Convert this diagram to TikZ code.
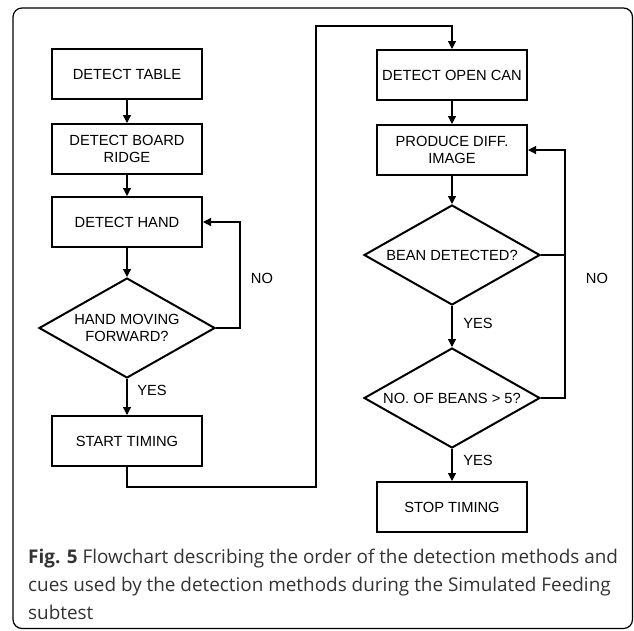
\documentclass[tikz,border=0pt]{standalone}
\usepackage{fontspec}
\setmainfont{Open Sans}
\newfontfamily\diagfont{Liberation Sans}
\usetikzlibrary{arrows.meta,shapes.geometric}
\definecolor{captext}{HTML}{333333}
\tikzset{
  box/.style={draw, line width=2pt, minimum width=150pt, minimum height=50pt, inner sep=0pt, align=center, font=\diagfont\fontsize{14.7}{17}\selectfont},
  dia/.style={draw, diamond, line width=2pt, minimum width=176pt, minimum height=100pt, inner sep=0pt, shape aspect=1.76, align=center, font=\diagfont\fontsize{14.7}{17}\selectfont},
  conn/.style={line width=1.2pt},
  arr/.style={conn, -{Triangle[length=8pt,width=8pt]}},
  lbl/.style={font=\diagfont\fontsize{14.7}{17}\selectfont, inner sep=0pt},
  captionline/.style={anchor=base west, inner sep=0pt, text=captext, font=\fontsize{18.9}{28}\selectfont}
}
\begin{document}
\begin{tikzpicture}[x=1pt,y=-1pt]
\useasboundingbox (0,0) rectangle (634,630);
\draw[line width=1.2pt, rounded corners=9pt] (13,8) rectangle (632.5,628.5);
% left column
\node[box] (t1) at (127,74) {DETECT TABLE};
\node[box] (t2) at (127,149) {DETECT BOARD\\RIDGE};
\node[box] (t3) at (127,222) {DETECT HAND};
\node[dia] (d1) at (127,328) {HAND MOVING\\FORWARD?};
\node[box] (st) at (127,441) {START TIMING};
% right column
\node[box] (oc) at (452,75) {DETECT OPEN CAN};
\node[box] (pd) at (452,150) {PRODUCE DIFF.\\IMAGE};
\node[dia] (d2) at (452,255) {BEAN DETECTED?};
\node[dia] (d3) at (452,398) {NO. OF BEANS > 5?};
\node[box] (sp) at (452,507) {STOP TIMING};
% connectors left
\draw[arr] (t1) -- (t2);
\draw[arr] (t2) -- (t3);
\draw[arr] (t3) -- (d1);
\draw[arr] (d1) -- (st);
\coordinate (nl) at (240,328);
\draw[arr] (d1.east) -- (nl) |- (t3.east);
% link across
\coordinate (c1) at (316,487);
\coordinate (c2) at (316,26);
\draw[arr] (st.south) |- (c1) -- (c2) -| (oc.north);
% connectors right
\draw[arr] (oc) -- (pd);
\draw[arr] (pd) -- (d2);
\draw[arr] (d2) -- (d3);
\draw[arr] (d3) -- (sp);
\coordinate (nr1) at (565,255);
\coordinate (nr2) at (565,398);
\draw[conn] (d2.east) -- (nr1);
\draw[arr] (d3.east) -- (nr2) |- (pd.east);
% labels
\node[lbl] (lno1) at (262,278) {NO};
\node[lbl] (lno2) at (597,278) {NO};
\node[lbl] (ly1) at (152,390) {YES};
\node[lbl] (ly2) at (478,323) {YES};
\node[lbl] (ly3) at (478,460) {YES};
% caption
\node[captionline] (cap1) at (28,563) {\textbf{Fig. 5} Flowchart describing the order of the detection methods and};
\node[captionline] (cap2) at (28,591) {cues used by the detection methods during the Simulated Feeding};
\node[captionline] (cap3) at (28,619) {subtest};
\end{tikzpicture}
\end{document}
